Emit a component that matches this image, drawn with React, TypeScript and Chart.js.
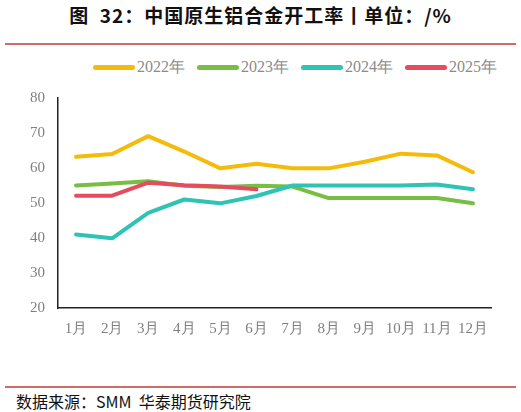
import { useEffect, useRef } from "react";
import { Chart, registerables } from "chart.js";

Chart.register(...registerables);

const months = ["1月", "2月", "3月", "4月", "5月", "6月", "7月", "8月", "9月", "10月", "11月", "12月"];
const years = ["2022年", "2023年", "2024年", "2025年"];
const colors = ["#F4BB0A", "#78BE43", "#2EC3B5", "#E64C60"];

const rate2022 = [63.2, 64.0, 69.1, 64.7, 59.9, 61.2, 59.9, 59.9, 61.8, 64.1, 63.6, 58.8];
const rate2023 = [55.0, 55.6, 56.2, 54.9, 54.6, 54.9, 54.7, 51.4, 51.4, 51.4, 51.4, 49.9];
const rate2024 = [41.0, 39.9, 47.2, 51.0, 49.9, 52.0, 55.0, 55.0, 55.0, 55.0, 55.3, 53.9];
const rate2025 = [52.1, 52.1, 55.8, 55.1, 54.7, 53.9];

const series = [rate2022, rate2023, rate2024, rate2025];

const yMin = 20;
const yMax = 80;
const yStep = 10;

const serif = '"Liberation Serif"';
const cjk = '"Noto Sans CJK SC"';

const App = () => {
  const canvasRef = useRef<HTMLCanvasElement | null>(null);
  const chartRef = useRef<Chart | null>(null);

  useEffect(() => {
    document.body.style.margin = "0";
    if (!canvasRef.current) return;
    if (chartRef.current) chartRef.current.destroy();

    chartRef.current = new Chart(canvasRef.current, {
      type: "line",
      data: {
        labels: months,
        datasets: series.map((values, i) => ({
          label: years[i],
          data: values,
          borderColor: colors[i],
          backgroundColor: colors[i],
          borderWidth: 4,
          pointRadius: 0,
          tension: 0,
          fill: false,
          borderCapStyle: "round" as const,
          borderJoinStyle: "round" as const,
          order: series.length - 1 - i, // 2025 drawn on top
        })),
      },
      options: {
        animation: false,
        responsive: false,
        maintainAspectRatio: false,
        layout: { padding: { top: 0, right: 30, bottom: 0, left: 0 } },
        plugins: {
          legend: { display: false },
          tooltip: { enabled: false },
        },
        scales: {
          x: {
            offset: true,
            grid: { display: false, drawTicks: false },
            border: { color: "#222", width: 1.5 },
            ticks: {
              color: "#7f7f7f",
              padding: 12,
              maxRotation: 0,
              autoSkip: false,
              font: { family: serif, size: 15 },
            },
            afterFit: (scale) => {
              scale.height = 37;
            },
          },
          y: {
            min: yMin,
            max: yMax,
            grid: { display: false, drawTicks: false },
            border: { color: "#222", width: 1.5 },
            ticks: {
              stepSize: yStep,
              color: "#7f7f7f",
              padding: 13,
              font: { family: serif, size: 15 },
            },
            afterFit: (scale) => {
              scale.width = 58;
            },
          },
        },
      },
    });

    return () => {
      if (chartRef.current) {
        chartRef.current.destroy();
        chartRef.current = null;
      }
    };
  }, []);

  return (
    <div style={{ position: "relative", width: 521, height: 412, background: "#fff", overflow: "hidden" }}>
      {/* Title */}
      <div
        style={{
          position: "absolute",
          top: 3,
          left: 0,
          width: 521,
          textAlign: "center",
          fontFamily: cjk,
          fontWeight: 700,
          fontSize: 19,
          letterSpacing: 1,
          color: "#111",
          lineHeight: "24px",
        }}
      >
        图&nbsp;&nbsp;32：中国原生铝合金开工率丨单位：/%
      </div>
      <div style={{ position: "absolute", top: 43, left: 5, width: 511, height: 2, background: "#d26a6a" }} />

      {/* Legend */}
      <div
        style={{
          position: "absolute",
          top: 56,
          left: 93,
          display: "flex",
          alignItems: "center",
          gap: 12,
          height: 22,
        }}
      >
        {years.map((y, i) => (
          <div key={y} style={{ display: "flex", alignItems: "center" }}>
            <span style={{ display: "inline-block", width: 42, height: 5, borderRadius: 3, background: colors[i] }} />
            <span style={{ marginLeft: 2, fontFamily: serif, fontSize: 16, color: "#8c8c8c" }}>{y}</span>
          </div>
        ))}
      </div>

      {/* Chart: chart area spans y 98..308, x 58..491 */}
      <div style={{ position: "absolute", top: 76, left: 0, width: 521, height: 269 }}>
        <canvas ref={canvasRef} width={521} height={269} style={{ width: 521, height: 269 }} />
      </div>

      {/* Source */}
      <div style={{ position: "absolute", top: 386, left: 5, width: 511, height: 2, background: "#d26a6a" }} />
      <div
        style={{
          position: "absolute",
          top: 390,
          left: 16,
          fontFamily: cjk,
          fontSize: 16,
          color: "#111",
          lineHeight: "22px",
        }}
      >
        数据来源：SMM&nbsp;&nbsp;华泰期货研究院
      </div>
    </div>
  );
};

export default App;
